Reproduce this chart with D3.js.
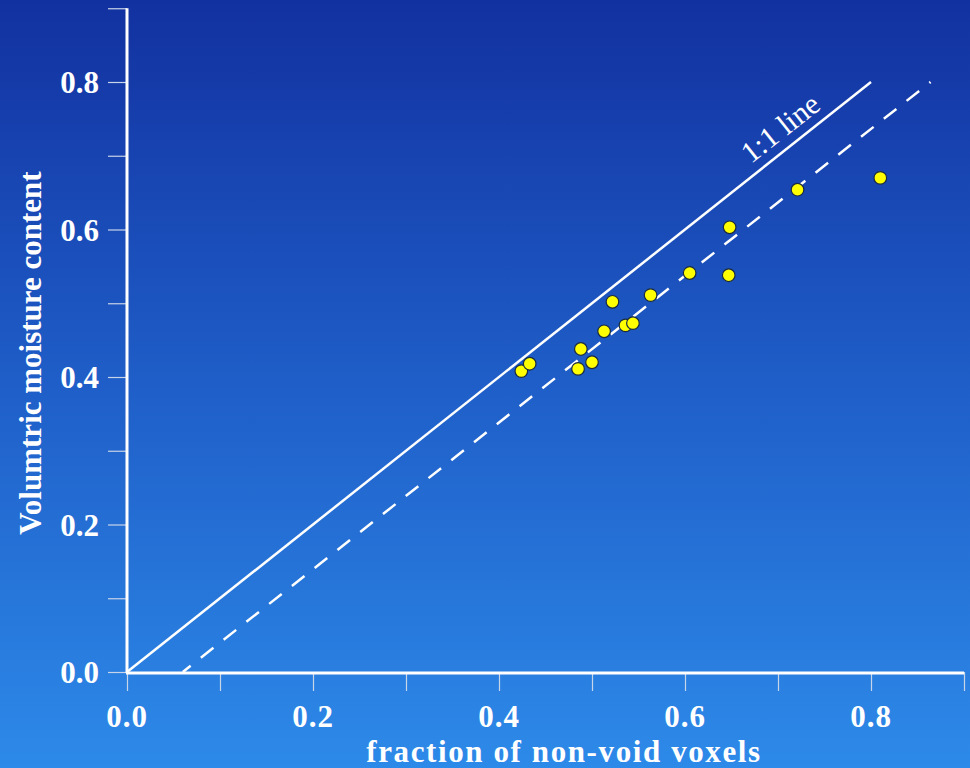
<!DOCTYPE html>
<html>
<head>
<meta charset="utf-8">
<script src="https://cdn.jsdelivr.net/npm/d3@7"></script>
<style>
  html, body { margin: 0; padding: 0; background: #1a4fb8; }
  svg { display: block; }
  text { font-family: "Liberation Serif", "Times New Roman", serif; fill: #ffffff; }
</style>
</head>
<body>
<svg id="chart" width="970" height="768"></svg>
<script>
// ---- data ----
const fractionNonVoid = [0.424, 0.433, 0.485, 0.488, 0.500, 0.513, 0.522, 0.536, 0.544, 0.563, 0.605, 0.647, 0.648, 0.721, 0.810];
const moistureContent = [0.408, 0.418, 0.411, 0.438, 0.420, 0.462, 0.502, 0.470, 0.473, 0.511, 0.541, 0.538, 0.603, 0.654, 0.670];
const oneToOneLine = [[0, 0], [0.8, 0.8]];
const fitLine = [[0.06, 0], [0.864, 0.8]];
const xTickValues = [0.0, 0.1, 0.2, 0.3, 0.4, 0.5, 0.6, 0.7, 0.8, 0.9];
const yTickValues = [0.0, 0.1, 0.2, 0.3, 0.4, 0.5, 0.6, 0.7, 0.8, 0.9];
const xLabelValues = [0.0, 0.2, 0.4, 0.6, 0.8];
const yLabelValues = [0.0, 0.2, 0.4, 0.6, 0.8];
const xTitle = "fraction of non-void voxels";
const yTitle = "Volumtric moisture content";
const lineLabel = "1:1 line";

// ---- layout ----
const W = 970, H = 768;
const x0 = 127, y0 = 672;
const x = d3.scaleLinear().domain([0, 0.9]).range([x0, x0 + 837]);
const y = d3.scaleLinear().domain([0, 0.9]).range([y0, y0 - 663.75]);

const svg = d3.select("#chart");
const defs = svg.append("defs");
const grad = defs.append("linearGradient").attr("id", "bg").attr("x1", 0).attr("y1", 0).attr("x2", 0).attr("y2", 1);
grad.append("stop").attr("offset", "0%").attr("stop-color", "#1231a0");
grad.append("stop").attr("offset", "50%").attr("stop-color", "#1f5ec8");
grad.append("stop").attr("offset", "100%").attr("stop-color", "#2d8ae9");
svg.append("rect").attr("width", W).attr("height", H).attr("fill", "url(#bg)");

// axes
const xAxis = d3.axisBottom(x).tickValues(xTickValues).tickSize(19).tickFormat("");
const yAxis = d3.axisLeft(y).tickValues(yTickValues).tickSize(19).tickFormat("");
const gx = svg.append("g").attr("transform", `translate(0,${y0})`).call(xAxis);
const gy = svg.append("g").attr("transform", `translate(${x0},0)`).call(yAxis);
[gx, gy].forEach(g => {
  g.select(".domain").remove();
  g.selectAll(".tick line").attr("stroke", "#c8d4e8").attr("stroke-width", 1.2);
});
// axis lines
svg.append("line").attr("x1", x(0)).attr("x2", x(0)).attr("y1", y(0) + 1).attr("y2", y(0.9))
  .attr("stroke", "#fff").attr("stroke-width", 3);
svg.append("line").attr("x1", x(0) - 1).attr("x2", x(0.9)).attr("y1", y(0) + 1).attr("y2", y(0) + 1)
  .attr("stroke", "#fff").attr("stroke-width", 3);

// tick labels
svg.append("g").selectAll("text").data(xLabelValues).join("text")
  .attr("x", d => x(d)).attr("y", 727)
  .attr("text-anchor", "middle").attr("font-size", 31).attr("font-weight", "bold")
  .attr("letter-spacing", 1)
  .text(d => d3.format(".1f")(d));
svg.append("g").selectAll("text").data(yLabelValues).join("text")
  .attr("x", 99).attr("y", d => y(d) + 11)
  .attr("text-anchor", "end").attr("font-size", 31).attr("font-weight", "bold")
  .text(d => d3.format(".1f")(d));

// titles
svg.append("text").attr("x", 564).attr("y", 762).attr("text-anchor", "middle")
  .attr("font-size", 31).attr("font-weight", "bold").attr("letter-spacing", 1.6).text(xTitle);
svg.append("text").attr("transform", `translate(41,353) rotate(-90)`).attr("text-anchor", "middle")
  .attr("font-size", 31).attr("font-weight", "bold").text(yTitle);

// lines
const line = d3.line().x(d => x(d[0])).y(d => y(d[1]));
svg.append("path").attr("d", line(oneToOneLine)).attr("fill", "none")
  .attr("stroke", "#fff").attr("stroke-width", 2.5);
svg.append("path").attr("d", line(fitLine)).attr("fill", "none")
  .attr("stroke", "#fff").attr("stroke-width", 2.5).attr("stroke-dasharray", "16,13")
  .attr("stroke-dashoffset", 6);

// 1:1 line label
const ang = Math.atan2(y(0) - y(0.8), x(0.8) - x(0)) * 180 / Math.PI;
svg.append("text")
  .attr("transform", `translate(${x(0.716)},${y(0.716)}) rotate(${-ang})`)
  .attr("y", -10).attr("text-anchor", "middle").attr("font-size", 30)
  .text(lineLabel);

// points
svg.append("g").selectAll("circle").data(fractionNonVoid).join("circle")
  .attr("cx", d => x(d)).attr("cy", (d, i) => y(moistureContent[i]))
  .attr("r", 6.3).attr("fill", "#ffff00").attr("stroke", "#1a2a40").attr("stroke-width", 1.2);
</script>
</body>
</html>
